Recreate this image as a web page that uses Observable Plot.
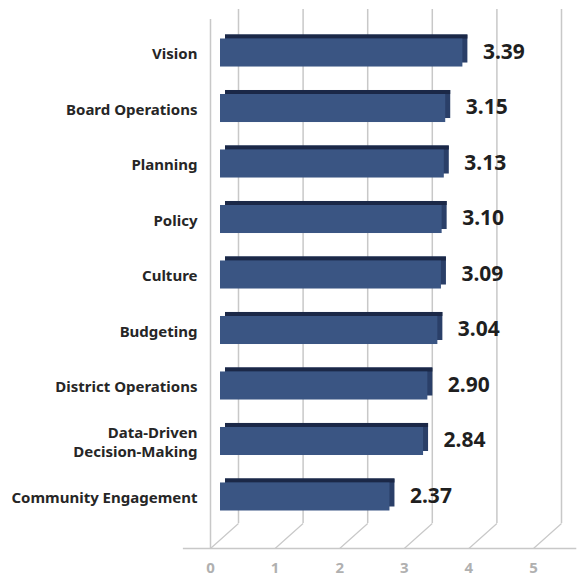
<!DOCTYPE html>
<html>
<head>
<meta charset="utf-8">
<script src="https://cdn.jsdelivr.net/npm/d3@7"></script>
<script src="https://cdn.jsdelivr.net/npm/@observablehq/plot@0.6"></script>
<style>
  html, body { margin: 0; padding: 0; background: #fff; }
  #chart { position: relative; width: 584px; height: 578px; }
  #chart svg { position: absolute; left: 0; top: 0; background: transparent; }
</style>
</head>
<body>
<div id="chart"></div>
<script>
// ---- data ----
const categories = ["Vision", "Board Operations", "Planning", "Policy", "Culture", "Budgeting", "District Operations", "Data-Driven\nDecision-Making", "Community Engagement"];
const scores = [3.39, 3.15, 3.13, 3.10, 3.09, 3.04, 2.90, 2.84, 2.37];
const tickValues = [0, 1, 2, 3, 4, 5];

const data = categories.map((c, i) => ({category: c, score: scores[i]}));

const W = 584, H = 578;
const FONT = "'Noto Sans', 'Open Sans', sans-serif";
const gridColor = "#c8c8c8";
const depthX = 28 / 64.6; // 3D depth offset, in axis units
const depthY = 25;

// ---- frame: walls, floor, gridlines, axis ----
const frame = Plot.plot({
  width: W, height: H,
  marginLeft: 210, marginRight: 51, marginTop: 19, marginBottom: 30,
  style: {background: "transparent", fontFamily: FONT},
  x: {domain: [0, 5], axis: null},
  y: {domain: [0, 529], axis: null},
  marks: [
    Plot.ruleX(tickValues, {x: d => d, y1: 0, y2: 514, dx: 28, dy: -25, stroke: gridColor, strokeWidth: 1.5}),
    Plot.link(tickValues, {x1: d => d, y1: 0, x2: d => d + depthX, y2: depthY, stroke: gridColor, strokeWidth: 1.2}),
    Plot.ruleX([0], {y1: 0, y2: 529, stroke: gridColor, strokeWidth: 1.5}),
    Plot.ruleY([0], {x1: -0.42, x2: 5.67, stroke: gridColor, strokeWidth: 1.5}),
    Plot.text(tickValues, {x: d => d, y: 0, dy: 20, text: d => String(d), fill: "#b0b0b0", fontSize: 15, fontWeight: "bold"})
  ]
});

// ---- bars ----
const bw = 28;
const bars = Plot.plot({
  width: W, height: H,
  marginLeft: 220, marginRight: 6.5, marginTop: 0, marginBottom: 0,
  style: {background: "transparent", fontFamily: FONT},
  x: {domain: [0, 5], axis: null},
  y: {domain: categories, range: [38.5, 510.5], paddingInner: 0.495, paddingOuter: 0, round: false, axis: null},
  marks: [
    // right side face
    Plot.barX(data, {x: "score", y: "category", dx: 5, dy: -4, fill: "#2a3f68"}),
    // top face
    Plot.barX(data, {x: "score", y: "category", dx: 5, dy: -4, insetBottom: bw - 4, fill: "#1b2847"}),
    // front face
    Plot.barX(data, {x: "score", y: "category", fill: "#3a5583"}),
    // category labels
    Plot.text(data, {x: 0, y: "category", text: "category", textAnchor: "end", dx: -23, fill: "#262626", fontSize: 15, fontWeight: "bold", lineHeight: 1.3}),
    // value labels
    Plot.text(data, {x: "score", y: "category", text: d => d.score.toFixed(2), textAnchor: "start", dx: 20, dy: -1, fill: "#1f1f1f", fontSize: 21, fontWeight: "bold"})
  ]
});

const el = document.getElementById("chart");
el.appendChild(frame);
el.appendChild(bars);
</script>
</body>
</html>
